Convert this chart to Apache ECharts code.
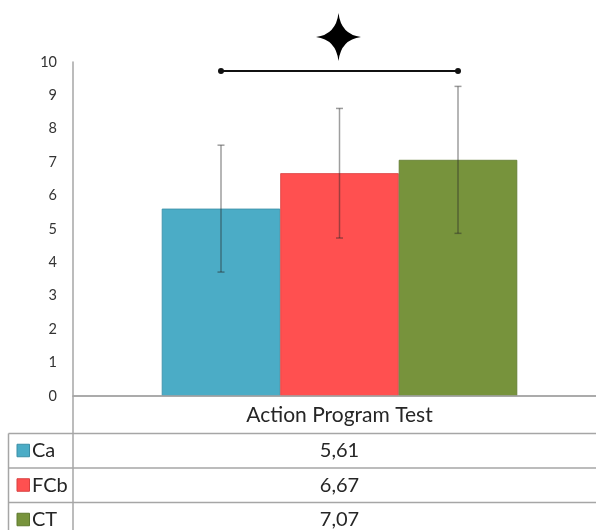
<!DOCTYPE html>
<html>
<head>
<meta charset="utf-8">
<script src="https://cdn.jsdelivr.net/npm/echarts@6/dist/echarts.min.js"></script>
<style>
html,body{margin:0;padding:0;background:#fff;}
#main{width:596px;height:530px;}
</style>
</head>
<body>
<div id="main"></div>
<script>
// ---- data ----
const categories = ['Action Program Test'];
const seriesNames = ['Ca', 'FCb', 'CT'];
const means = [5.61, 6.67, 7.07];
const sds = [1.90, 1.94, 2.20];
const sigPair = [0, 2];      // significance bracket between Ca and CT
const sigLevel = 9.73;       // bracket height (axis units)
const starLevel = 10.75;     // star height (axis units)
const yMin = 0, yMax = 10, yStep = 1;

// ---- styles ----
const colors = ['#4bacc6', '#ff5050', '#77933c'];
const borders = ['#3b8ea6', '#d84040', '#5f7a2e'];
const BAR_W = 118.5;
const FONT = 'Lato, "Open Sans", sans-serif';
const GRID = {left: 73, width: 533, top: 62, bottom: 134, outerBoundsMode: 'none', containLabel: false};
const LINE_C = '#a6a6a6';

const chart = echarts.init(document.getElementById('main'), null, {renderer: 'canvas'});

const barSeries = seriesNames.map((n, i) => ({
  type: 'bar',
  name: n,
  data: [means[i]],
  barWidth: BAR_W,
  barGap: '0%',
  itemStyle: {color: colors[i], borderColor: borders[i], borderWidth: 0.8},
  silent: true,
  z: 2
}));

const errSeries = {
  type: 'custom',
  clip: false,
  silent: true,
  z: 5,
  data: means.map((m, i) => [0, m - sds[i], m + sds[i], i]),
  encode: {x: 0, y: [1, 2]},
  renderItem: function (params, api) {
    const idx = api.value(3);
    const lo = api.coord([api.value(0), api.value(1)]);
    const hi = api.coord([api.value(0), api.value(2)]);
    const x = lo[0] + (idx - 1) * BAR_W;
    const st = {stroke: 'rgba(40,40,40,0.45)', lineWidth: 1.5};
    const cw = 3.5;
    return {
      type: 'group',
      children: [
        {type: 'line', shape: {x1: x, y1: lo[1], x2: x, y2: hi[1]}, style: st},
        {type: 'line', shape: {x1: x - cw, y1: lo[1], x2: x + cw, y2: lo[1]}, style: st},
        {type: 'line', shape: {x1: x - cw, y1: hi[1], x2: x + cw, y2: hi[1]}, style: st}
      ]
    };
  }
};

const sigSeries = {
  type: 'custom',
  clip: false,
  silent: true,
  z: 6,
  data: [[0, sigLevel, sigPair[0], sigPair[1], starLevel]],
  renderItem: function (params, api) {
    const p = api.coord([api.value(0), api.value(1)]);
    const s = api.coord([api.value(0), api.value(4)]);
    const xa = p[0] + (api.value(2) - 1) * BAR_W;
    const xb = p[0] + (api.value(3) - 1) * BAR_W;
    const xs = (xa + xb) / 2 - 1;
    const h = 24, w = 22.5, k = 2.5;
    const star = 'M0,' + (-h) + ' Q' + k + ',' + (-k) + ' ' + w + ',0 Q' + k + ',' + k + ' 0,' + h +
      ' Q' + (-k) + ',' + k + ' ' + (-w) + ',0 Q' + (-k) + ',' + (-k) + ' 0,' + (-h) + ' Z';
    return {
      type: 'group',
      children: [
        {type: 'line', shape: {x1: xa, y1: p[1], x2: xb, y2: p[1]}, style: {stroke: '#111', lineWidth: 2}},
        {type: 'circle', shape: {cx: xa, cy: p[1], r: 3}, style: {fill: '#111'}},
        {type: 'circle', shape: {cx: xb, cy: p[1], r: 3}, style: {fill: '#111'}},
        {type: 'path', x: xs, y: s[1], shape: {pathData: star}, style: {fill: '#000'}}
      ]
    };
  }
};

// ---- data table (drawn beneath the axis) ----
const tableTop = 433.5, rowH = 34.5, tableLeft = 8.5, colX = 73, rightEdge = 596;
const valueCenter = GRID.left + GRID.width / 2;
const graphics = [];
const lineStyle = {stroke: LINE_C, lineWidth: 1.5};
graphics.push({type: 'line', shape: {x1: colX, y1: GRID.top + 334, x2: colX, y2: 530}, style: lineStyle, z: 10});
graphics.push({type: 'line', shape: {x1: colX, y1: GRID.top + 334, x2: rightEdge, y2: GRID.top + 334}, style: lineStyle, z: 10});
graphics.push({type: 'line', shape: {x1: tableLeft, y1: tableTop, x2: tableLeft, y2: 530}, style: lineStyle, z: 10});
for (let r = 0; r < seriesNames.length; r++) {
  const y0 = tableTop + r * rowH;
  graphics.push({type: 'line', shape: {x1: tableLeft, y1: y0, x2: rightEdge, y2: y0}, style: lineStyle, z: 10});
  const cy = y0 + rowH / 2;
  graphics.push({type: 'rect', shape: {x: 17, y: cy - 6.5, width: 12.5, height: 12.5},
    style: {fill: colors[r], stroke: borders[r], lineWidth: 1}, z: 10});
  graphics.push({type: 'text', x: 32, y: cy, style: {text: seriesNames[r], font: '20px ' + FONT,
    fill: '#262626', textVerticalAlign: 'middle', verticalAlign: 'middle'}, z: 10});
  graphics.push({type: 'text', x: valueCenter, y: cy, style: {text: means[r].toFixed(2).replace('.', ','),
    font: '20px ' + FONT, fill: '#262626', textAlign: 'center', align: 'center',
    textVerticalAlign: 'middle', verticalAlign: 'middle'}, z: 10});
}

chart.setOption({
  animation: false,
  backgroundColor: '#fff',
  grid: GRID,
  xAxis: {
    type: 'category',
    data: categories,
    axisLine: {show: true, lineStyle: {color: LINE_C, width: 1.5}},
    axisTick: {show: false},
    axisLabel: {fontSize: 21, fontFamily: FONT, color: '#262626', margin: 9},
    splitLine: {show: false}
  },
  yAxis: {
    type: 'value',
    min: yMin, max: yMax, interval: yStep,
    axisLine: {show: true, lineStyle: {color: LINE_C, width: 1.5}},
    axisTick: {show: false},
    splitLine: {show: false},
    axisLabel: {fontSize: 14.5, fontFamily: FONT, color: '#333', margin: 16}
  },
  series: barSeries.concat([errSeries, sigSeries]),
  graphic: graphics
});
</script>
</body>
</html>
